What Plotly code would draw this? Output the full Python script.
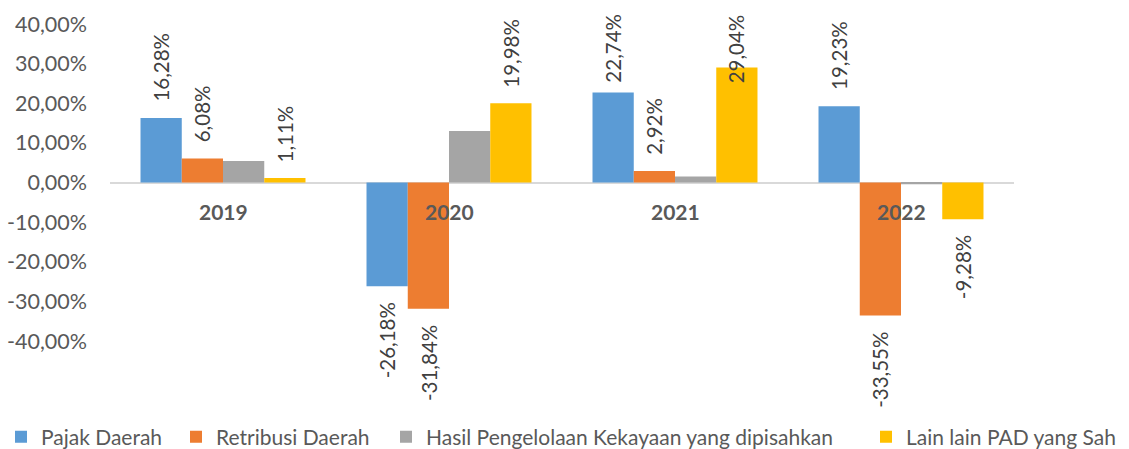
import plotly.graph_objects as go

# Growth of regional own-source revenue components (PAD), year on year
years = ["2019", "2020", "2021", "2022"]
series_names = [
    "Pajak Daerah",
    "Retribusi Daerah",
    "Hasil Pengelolaan Kekayaan yang dipisahkan",
    "Lain lain PAD yang Sah",
]
pajak_daerah = [16.28, -26.18, 22.74, 19.23]
retribusi_daerah = [6.08, -31.84, 2.92, -33.55]
hasil_kekayaan = [5.45, 13.0, 1.5, -0.45]
lain_lain_pad = [1.11, 19.98, 29.04, -9.28]
# which series carry value labels
labelled = [True, True, False, True]

tick_values = [40, 30, 20, 10, 0, -10, -20, -30, -40]
tick_labels = ["40,00%", "30,00%", "20,00%", "10,00%", "0,00%",
               "-10,00%", "-20,00%", "-30,00%", "-40,00%"]

colors = ["#5B9BD5", "#ED7D31", "#A5A5A5", "#FFC000"]
all_series = [pajak_daerah, retribusi_daerah, hasil_kekayaan, lain_lain_pad]

W, H = 1129, 449
M_T, M_B, M_L, M_R = 24, 108, 110, 115
Y_MIN, Y_MAX = -40, 40
BARGAP = 0.27
FONT = "Lato"

# one legend box per series, laid out in a single row along the bottom
legend_ids = ["legend", "legend2", "legend3", "legend4"]
legend_left_px = [1, 176, 386, 866]
LEGEND_Y_PX = 437

ppu = (H - M_T - M_B) / (Y_MAX - Y_MIN)   # pixels per percentage point

fig = go.Figure()
for name, vals, col, lid in zip(series_names, all_series, colors, legend_ids):
    fig.add_trace(go.Bar(
        x=years, y=vals, name=name, legend=lid,
        marker=dict(color=col, line=dict(width=0)),
        hoverinfo="skip",
    ))


def fmt(v):
    return f"{v:.2f}".replace(".", ",") + "%"


def to_paper(v):
    return (v - Y_MIN) / (Y_MAX - Y_MIN)


annotations = []
n = len(all_series)
group_w = 1 - BARGAP
gap_px = 14
char_px = 11.3
top_limit = Y_MAX + (M_T - 12) / ppu   # highest point a label may reach
for k, (vals, lab) in enumerate(zip(all_series, labelled)):
    if not lab:
        continue
    for i, v in enumerate(vals):
        xpos = i - group_w / 2 + (k + 0.5) * group_w / n
        text = fmt(v)
        if v >= 0:
            length_u = len(text) * char_px / ppu
            if v + (gap_px + 3) / ppu + length_u > top_limit:
                annotations.append(dict(x=xpos, y=to_paper(top_limit), yref="paper",
                                        yanchor="top", yshift=0, text=text))
            else:
                annotations.append(dict(x=xpos, y=v, yref="y", yanchor="bottom",
                                        yshift=gap_px, text=text))
        else:
            annotations.append(dict(x=xpos, y=v, yref="y", yanchor="top",
                                    yshift=-gap_px, text=text))

for a in annotations:
    a.update(xref="x", xanchor="center", textangle=-90, showarrow=False,
             font=dict(family=FONT, size=20.5, color="#404040"))

# category labels sit just under the zero line
for i, yr in enumerate(years):
    annotations.append(dict(
        x=i, y=0, xref="x", yref="y", yanchor="middle", yshift=-29,
        text=f"<b>{yr}</b>", showarrow=False,
        font=dict(family=FONT, size=21, color="#595959"),
    ))

legend_style = dict(
    orientation="h", xref="container", yref="container",
    xanchor="left", y=1 - LEGEND_Y_PX / H, yanchor="middle",
    font=dict(family=FONT, size=21, color="#595959"),
    itemwidth=30, bgcolor="rgba(0,0,0,0)",
)
legend_layout = {lid: dict(legend_style, x=px / W) for lid, px in zip(legend_ids, legend_left_px)}

fig.update_layout(
    width=W, height=H,
    margin=dict(t=M_T, b=M_B, l=M_L, r=M_R, pad=0, autoexpand=False),
    paper_bgcolor="white", plot_bgcolor="white",
    barmode="group", bargap=BARGAP, bargroupgap=0,
    showlegend=True,
    annotations=annotations,
    xaxis=dict(showticklabels=False, showgrid=False, zeroline=False,
               showline=False, ticks="", fixedrange=True),
    yaxis=dict(range=[Y_MIN, Y_MAX], tickvals=tick_values, ticktext=tick_labels,
               showgrid=False, zeroline=True, zerolinecolor="#D9D9D9", zerolinewidth=2,
               showline=False, ticks="", ticklabelstandoff=22, automargin=False,
               tickfont=dict(family=FONT, size=21.5, color="#595959")),
    **legend_layout,
)

fig.write_html("out.html")
